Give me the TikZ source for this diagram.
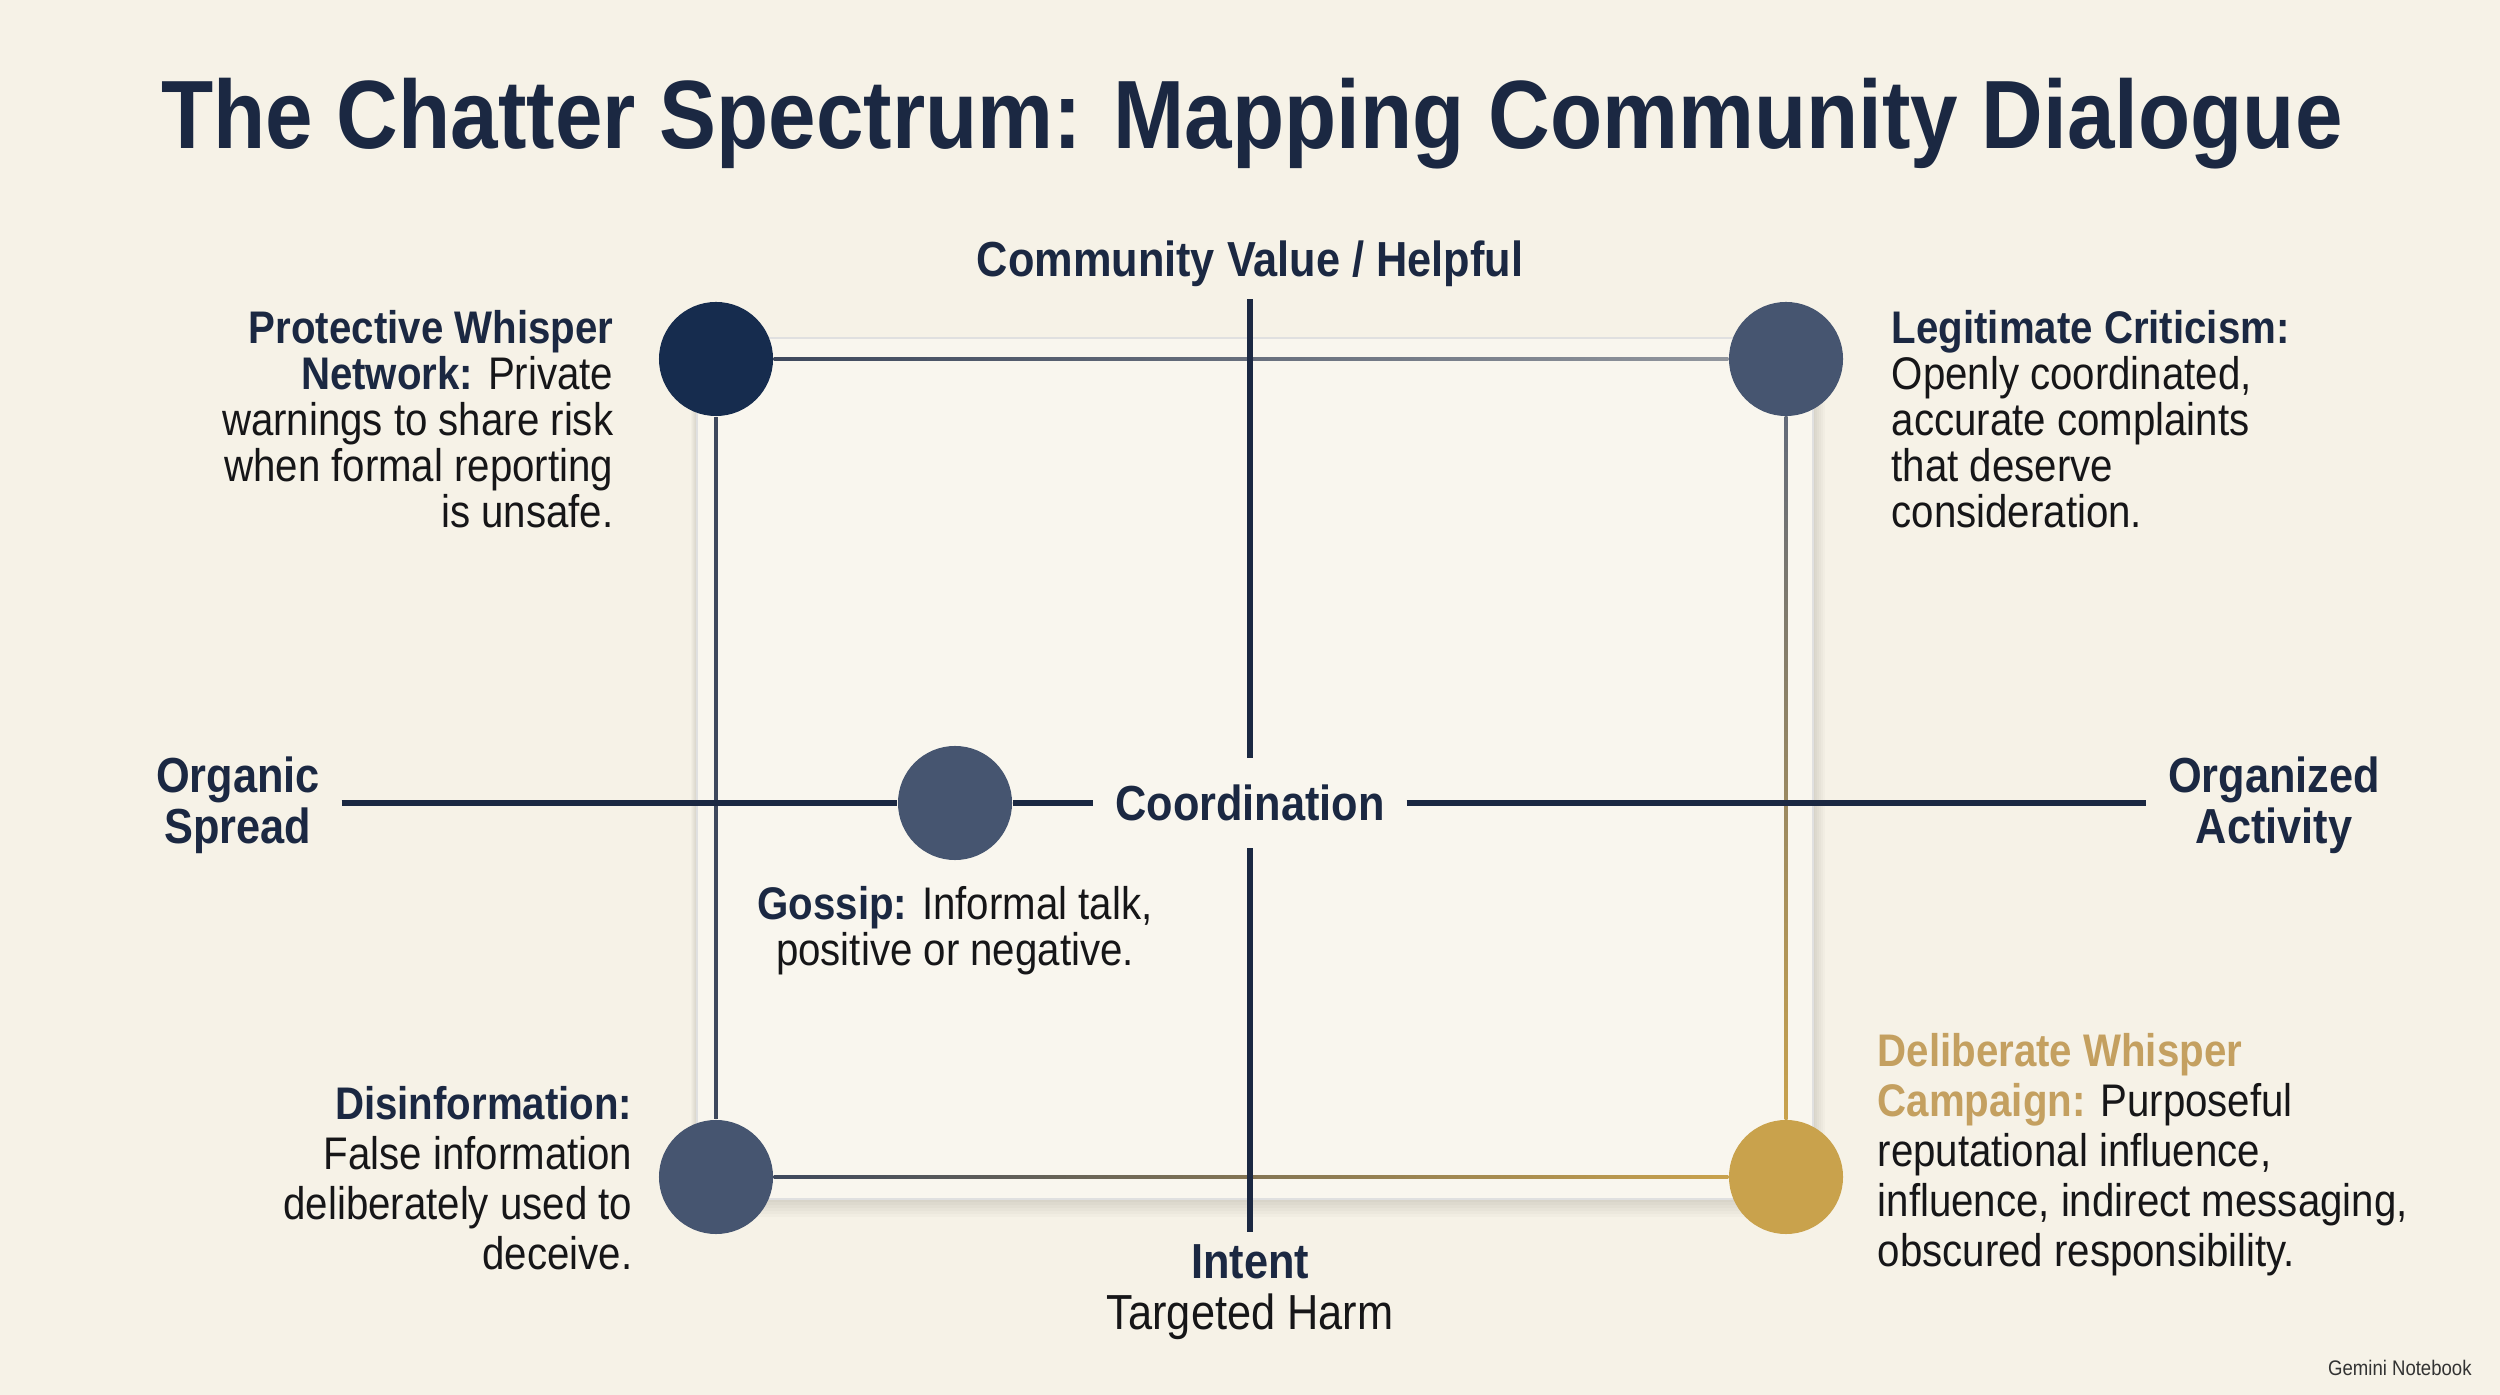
\documentclass[tikz,border=0pt]{standalone}
\usepackage{fontspec}
\setmainfont[FakeStretch=0.88]{Liberation Sans}
\usepackage{tikz}
\usetikzlibrary{calc,positioning}
\definecolor{PaperCream}{RGB}{246,242,231}
\definecolor{CardCream}{RGB}{249,246,238}
\definecolor{InkNavy}{RGB}{27,40,66}
\definecolor{DeepNavy}{RGB}{22,44,78}
\definecolor{SlateDot}{RGB}{70,85,112}
\definecolor{EdgeGray}{RGB}{62,72,92}
\definecolor{CampaignGold}{RGB}{201,162,76}
\definecolor{GoldText}{RGB}{196,160,96}
\definecolor{BodyInk}{RGB}{22,22,24}

\tikzset{
  dot/.style={circle,minimum size=1.14cm,inner sep=0pt},
  desc/.style={font=\fontsize{13}{13.1}\selectfont,text=BodyInk,inner sep=0pt},
  desclow/.style={desc,font=\fontsize{13}{14.2}\selectfont},
  head/.style={font=\bfseries\fontsize{14}{14.6}\selectfont,text=InkNavy,align=center},
  axisline/.style={InkNavy,line width=1.5pt},
  edge/.style={EdgeGray,line width=0.9pt}
}
\newcommand{\hd}[1]{{\bfseries\color{InkNavy}#1}}

\begin{document}
\begin{tikzpicture}[x=0.01cm,y=-0.01cm]
      \useasboundingbox (0,0) rectangle (2500,1395);
      \fill[PaperCream] (0,0) rectangle (2500,1395);
      % title
      \node[font=\bfseries\fontsize{27.6}{32}\selectfont,text=InkNavy] (title) at (1252,124)
        {The Chatter Spectrum: Mapping Community Dialogue};
      % card with soft shadow
      \foreach \s in {1,...,6}
        \fill[black,opacity=0.02] (697-\s,338+\s) rectangle (1813+2*\s,1199+3*\s);
      \fill[CardCream] (697,338) rectangle (1813,1199);
      \draw[black!12,line width=0.4pt] (697,338) rectangle (1813,1199);
      % dots
      \node[dot,fill=DeepNavy] (pw) at (716,359) {};
      \node[dot,fill=SlateDot] (lc) at (1786,359) {};
      \node[dot,fill=SlateDot] (di) at (716,1177) {};
      \node[dot,fill=CampaignGold] (dw) at (1786,1177) {};
      \node[dot,fill=SlateDot] (gs) at (955,803) {};
      % frame connectors
      \shade[left color=EdgeGray,middle color=CardCream,right color=EdgeGray!55!CardCream]
        ($(pw.east)+(0,-1.5)$) rectangle ($(lc.west)+(0,1.5)$);
      \draw[edge] (pw) -- (di);
      \shade[top color=EdgeGray!80!CardCream,bottom color=CampaignGold]
        ($(lc.south)+(-1.5,0)$) rectangle ($(dw.north)+(1.5,0)$);
      \shade[left color=EdgeGray,middle color=CardCream!80!EdgeGray,right color=CampaignGold]
        ($(di.east)+(0,-1.5)$) rectangle ($(dw.west)+(0,1.5)$);
      % axis labels
      \node[head] (helpful) at (1250,264) {Community Value / Helpful};
      \node[head,inner xsep=6pt,inner ysep=7.5pt] (coord) at (1250,803) {Coordination};
      \node[head,inner sep=6pt] (organic) at (238,805) {Organic\\Spread};
      \node[head,inner sep=6pt] (organized) at (2274,805) {Organized\\Activity};
      \node[head] (intent) at (1250,1292) {Intent\\{\mdseries\color{BodyInk}Targeted Harm}};
      % axes
      \draw[axisline] (helpful) -- (coord);
      \draw[axisline] (coord) -- (intent);
      \draw[axisline] (organic.east |- gs) -- (gs) -- (coord);
      \draw[axisline] (coord) -- (organized.west |- coord);
      % descriptions
      \node[desc,anchor=east,align=right] (pwtext) at (614,419)
        {\hd{Protective Whisper}\\\hd{Network:} Private\\warnings to share risk\\when formal reporting\\is unsafe.};
      \node[desc,anchor=west,align=left] (lctext) at (1891,419)
        {\hd{Legitimate Criticism:}\\Openly coordinated,\\accurate complaints\\that deserve\\consideration.};
      \node[desc,align=center] (gstext) at (955,931)
        {\hd{Gossip:} Informal talk,\\positive or negative.};
      \node[desclow,anchor=east,align=right] (ditext) at (633,1178)
        {\hd{Disinformation:}\\False information\\deliberately used to\\deceive.};
      \node[desclow,anchor=west,align=left] (dwtext) at (1877,1155)
        {{\bfseries\color{GoldText}Deliberate Whisper}\\{\bfseries\color{GoldText}Campaign:} Purposeful\\reputational influence,\\influence, indirect messaging,\\obscured responsibility.};
      % corner mark
      \node[font=\fontsize{6}{7}\selectfont,text=black!80,anchor=east] (brand) at (2484,1368) {Gemini Notebook};
\end{tikzpicture}
\end{document}
